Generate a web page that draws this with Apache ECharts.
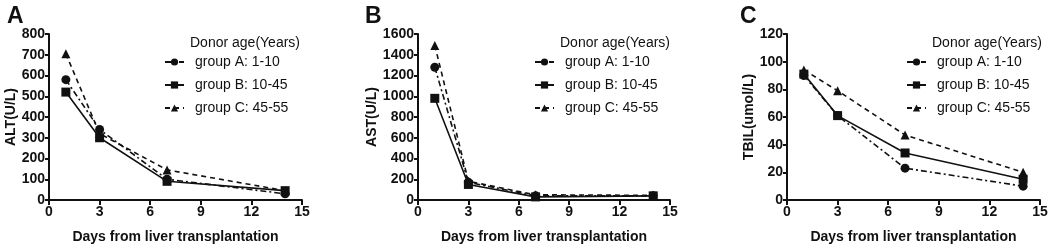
<!DOCTYPE html>
<html>
<head>
<meta charset="utf-8">
<script src="https://cdn.jsdelivr.net/npm/echarts@6/dist/echarts.min.js"></script>
<style>
  html, body { margin: 0; padding: 0; background: #fff; }
  #main { width: 1053px; height: 249px; }
</style>
</head>
<body>
<div id="main"></div>
<script>
var days = [1, 3, 7, 14];
var groupNames = ['group A: 1-10', 'group B: 10-45', 'group C: 45-55'];

// ALT
var altA = [580, 340, 100, 30];
var altB = [520, 300, 90, 45];
var altC = [705, 320, 145, 45];
// AST
var astA = [1280, 170, 40, 40];
var astB = [980, 150, 30, 40];
var astC = [1490, 180, 50, 45];
// TBIL
var tbilA = [90, 61, 23, 10];
var tbilB = [91, 61, 34, 15];
var tbilC = [94, 79, 47, 20];

var panels = [
  { letter: 'A', yName: 'ALT(U/L)', yMax: 800, yStep: 100, data: [altA, altB, altC], left: 49, right: 302, gap: 31, letterX: 2, legX: 159, titleX: 185 },
  { letter: 'B', yName: 'AST(U/L)', yMax: 1600, yStep: 200, data: [astA, astB, astC], left: 418, right: 670, gap: 33, letterX: 360, legX: 529, titleX: 555 },
  { letter: 'C', yName: 'TBIL(umol/L)', yMax: 120, yStep: 20, data: [tbilA, tbilB, tbilC], left: 787, right: 1040, gap: 28, letterX: 735, legX: 901, titleX: 927 }
];

var font = 'Arial, "Liberation Sans", sans-serif';
var symbols = ['circle', 'rect', 'triangle'];
var lineTypes = [[6, 3, 2, 3], 'solid', [5, 4]];

var chart = echarts.init(document.getElementById('main'));
var grids = [], xAxes = [], yAxes = [], series = [], titles = [], legends = [];

panels.forEach(function (p, i) {
  grids.push({ left: p.left, width: p.right - p.left, top: 34, height: 169 });
  xAxes.push({
    gridIndex: i, type: 'value', min: 0, max: 15, interval: 3,
    name: 'Days from liver transplantation', nameLocation: 'middle', nameGap: 30,
    nameTextStyle: { fontFamily: font, fontWeight: 'bold', fontSize: 14, color: '#111' },
    axisLine: { lineStyle: { color: '#111', width: 2 } },
    axisTick: { lineStyle: { color: '#111', width: 2 }, length: 5 },
    axisLabel: { fontFamily: font, fontWeight: 'bold', fontSize: 14, color: '#111', margin: 5 },
    splitLine: { show: false }
  });
  yAxes.push({
    gridIndex: i, type: 'value', min: 0, max: p.yMax, interval: p.yStep,
    name: p.yName, nameLocation: 'middle', nameRotate: 90, nameGap: p.gap,
    nameTextStyle: { fontFamily: font, fontWeight: 'bold', fontSize: 14, color: '#111' },
    axisLine: { show: true, lineStyle: { color: '#111', width: 2 } },
    axisTick: { show: true, lineStyle: { color: '#111', width: 2 }, length: 4 },
    axisLabel: {
      fontFamily: font, fontWeight: 'bold', fontSize: 14, color: '#111', margin: 4,
      formatter: function (v) { return String(v); }
    },
    splitLine: { show: false }
  });
  titles.push({
    text: p.letter, left: p.letterX, top: 0,
    textStyle: { fontFamily: font, fontWeight: 'bold', fontSize: 23, color: '#111' }
  });
  titles.push({
    text: 'Donor age(Years)', left: p.titleX, top: 31,
    textStyle: { fontFamily: font, fontWeight: 'normal', fontSize: 14, color: '#111' }
  });
  legends.push({
    data: groupNames, orient: 'vertical', left: p.legX, top: 50, itemGap: 9,
    itemWidth: 19, itemHeight: 9, selectedMode: false,
    textStyle: { fontFamily: font, fontSize: 14, color: '#111', padding: [0, 0, 0, 6] }
  });
  p.data.forEach(function (vals, g) {
    series.push({
      name: groupNames[g], type: 'line', xAxisIndex: i, yAxisIndex: i,
      data: days.map(function (d, k) { return [d, vals[k]]; }),
      symbol: symbols[g], symbolSize: 9,
      lineStyle: { color: '#111', width: 1.6, type: lineTypes[g] },
      itemStyle: { color: '#111' },
      animation: false
    });
  });
});

chart.setOption({
  backgroundColor: '#fff',
  title: titles,
  legend: legends,
  grid: grids,
  xAxis: xAxes,
  yAxis: yAxes,
  series: series
});
</script>
</body>
</html>
